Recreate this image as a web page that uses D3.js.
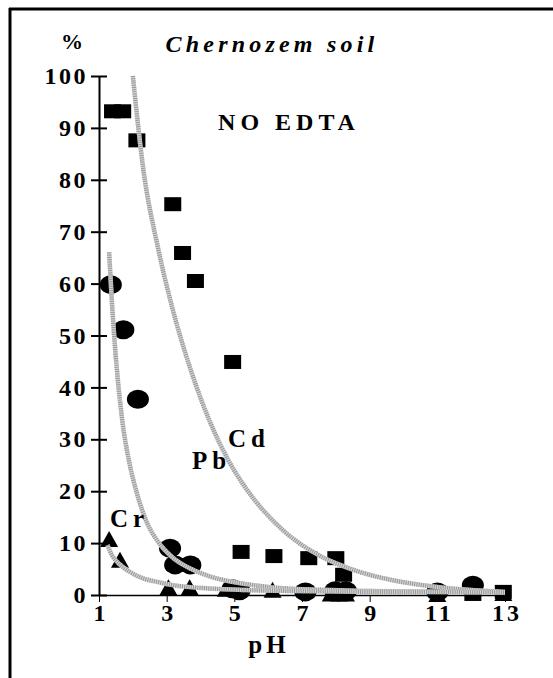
<!DOCTYPE html>
<html>
<head>
<meta charset="utf-8">
<script src="https://cdn.jsdelivr.net/npm/d3@7"></script>
<style>
    body { margin: 0; background: #fff; }
    text { font-family: "Liberation Serif", "Times New Roman", serif; font-weight: bold; fill: #000; }
</style>
</head>
<body>
<div id="chart"></div>
<script>
// pH values and % extracted
var cdPoints = [
    [1.4, 93.2], [1.7, 93.2], [2.12, 87.6], [3.18, 75.3], [3.47, 65.9], [3.85, 60.5],
    [4.95, 44.9], [5.2, 8.3], [6.17, 7.5], [7.2, 7.1], [8.0, 7.1], [8.23, 3.9],
    [12.05, 0.2], [12.95, 0.6]
];
var pbPoints = [
    [1.35, 59.8], [1.72, 51.1], [2.15, 37.7], [3.1, 9.0], [3.25, 5.8], [3.7, 5.8],
    [4.95, 1.2], [5.15, 0.8], [7.1, 0.6], [7.98, 0.8], [8.3, 0.8], [11.0, 0.6], [12.05, 1.9]
];
var crPoints = [
    [1.3, 10.8], [1.62, 6.8], [3.05, 1.5], [3.68, 1.5], [4.75, 1.2], [6.13, 1.0],
    [7.85, 0.3], [8.1, 0.3], [8.3, 0.3], [11.0, 0.2], [12.95, 0.4]
];

// trend curves, points
var cdCurve = [
    [2.0, 100], [2.31, 82], [2.74, 67], [3.18, 55], [3.73, 43], [4.27, 33.5], [4.82, 26],
    [5.36, 20.4], [6.45, 12.4], [7.54, 7.5], [8.63, 4.6], [9.72, 2.8], [10.81, 1.7],
    [11.9, 1.0], [13, 0.6]
];
var pbCurve = [
    [1.3, 66], [1.38, 56.6], [1.48, 47.2], [1.68, 34], [1.9, 25.4], [2.12, 19.6], [2.42, 13.9],
    [2.74, 10.3], [3.18, 7.2], [3.73, 5.0], [4.27, 3.6], [5.36, 2.1], [6.45, 1.3], [7.54, 1.0],
    [8.63, 0.8], [9.72, 0.7], [10.81, 0.65], [11.9, 0.6], [13, 0.55]
];
var crCurve = [
    [1.25, 9.6], [1.38, 7.7], [1.58, 6.1], [1.9, 4.5], [2.3, 3.2], [2.74, 2.5], [3.18, 1.9],
    [4.27, 1.25], [5.36, 0.95], [6.45, 0.8], [7.54, 0.7], [8.63, 0.65], [9.72, 0.6],
    [10.81, 0.6], [11.9, 0.55], [13, 0.5]
];

var xTicks = [1, 3, 5, 7, 9, 11, 13];
var yTicks = [0, 10, 20, 30, 40, 50, 60, 70, 80, 90, 100];

function init() {
    var w = 553,
        h = 678;

    var svg = d3
        .select("#chart")
        .append("svg")
        .attr("width", w)
        .attr("height", h);

    // outer frame (only left and top edges are visible)
    svg.append("line")
        .attr("x1", 10).attr("y1", 8).attr("x2", 10).attr("y2", h)
        .attr("stroke", "#000").attr("stroke-width", 3);
    svg.append("line")
        .attr("x1", 9).attr("y1", 9).attr("x2", w).attr("y2", 9)
        .attr("stroke", "#000").attr("stroke-width", 3);

    var xScale = d3.scaleLinear().domain([1, 13]).range([99, 505]);
    var yScale = d3.scaleLinear().domain([0, 100]).range([595, 76]);

    // axes
    var xAxis = d3.axisBottom(xScale)
        .tickValues(xTicks)
        .tickSize(7)
        .tickSizeOuter(0)
        .tickPadding(2);

    var yAxis = d3.axisLeft(yScale)
        .tickValues(yTicks)
        .tickSize(8)
        .tickSizeOuter(0)
        .tickPadding(3);

    var gx = svg.append("g")
        .attr("transform", "translate(0," + yScale(0) + ")")
        .call(xAxis);
    gx.select(".domain").attr("stroke", "#000").attr("stroke-width", 1.5);
    gx.selectAll(".tick line").attr("stroke", "#000").attr("stroke-width", 1);
    gx.selectAll("text")
        .attr("font-size", "24px")
        .attr("dx", "1.5px")
        .attr("letter-spacing", "3px")
        .style("font-family", "Liberation Serif")
        .style("font-weight", "bold");

    var gy = svg.append("g")
        .attr("transform", "translate(" + xScale(1) + ",0)")
        .call(yAxis);
    gy.select(".domain").attr("stroke", "#000").attr("stroke-width", 2);
    gy.selectAll(".tick line")
        .attr("x1", 8)
        .attr("stroke", "#000")
        .attr("stroke-width", 2);
    gy.selectAll("text")
        .attr("font-size", "24px")
        .attr("letter-spacing", "2.5px")
        .style("font-family", "Liberation Serif")
        .style("font-weight", "bold");

    // Cd : squares
    svg.append("g")
        .selectAll("rect")
        .data(cdPoints)
        .enter()
        .append("rect")
        .attr("x", d => xScale(d[0]) - 8.5)
        .attr("y", d => yScale(d[1]) - 7)
        .attr("width", 17)
        .attr("height", 14)
        .attr("fill", "#000");

    // Pb : circles
    svg.append("g")
        .selectAll("ellipse")
        .data(pbPoints)
        .enter()
        .append("ellipse")
        .attr("cx", d => xScale(d[0]))
        .attr("cy", d => yScale(d[1]))
        .attr("rx", 11)
        .attr("ry", 9.5)
        .attr("fill", "#000");

    // Cr : triangles
    svg.append("g")
        .selectAll("path")
        .data(crPoints)
        .enter()
        .append("path")
        .attr("d", d => {
            var cx = xScale(d[0]), cy = yScale(d[1]);
            return "M" + (cx - 9) + "," + (cy + 8) + "L" + cx + "," + (cy - 8) +
                "L" + (cx + 9) + "," + (cy + 8) + "Z";
        })
        .attr("fill", "#000");

    // grey trend lines
    var line = d3.line()
        .x(d => xScale(d[0]))
        .y(d => yScale(d[1]))
        .curve(d3.curveMonotoneX);

    [cdCurve, pbCurve, crCurve].forEach(c => {
        svg.append("path")
            .datum(c)
            .attr("d", line)
            .attr("fill", "none")
            .attr("stroke", "#d4d4d4")
            .attr("stroke-width", 4.5);
        svg.append("path")
            .datum(c)
            .attr("d", line)
            .attr("fill", "none")
            .attr("stroke", "#979797")
            .attr("stroke-width", 4.5)
            .attr("stroke-dasharray", "1 1.2");
    });

    // titles and labels
    svg.append("text")
        .attr("x", 72).attr("y", 49)
        .attr("text-anchor", "middle")
        .attr("font-size", "22px")
        .text("%");

    svg.append("text")
        .attr("x", 272).attr("y", 52)
        .attr("text-anchor", "middle")
        .attr("font-size", "24px")
        .attr("letter-spacing", "4.2px")
        .style("font-style", "italic")
        .text("Chernozem soil");

    svg.append("text")
        .attr("x", 289).attr("y", 130)
        .attr("text-anchor", "middle")
        .attr("font-size", "24px")
        .attr("letter-spacing", "5px")
        .text("NO EDTA");

    svg.append("text")
        .attr("x", 269).attr("y", 653)
        .attr("text-anchor", "middle")
        .attr("font-size", "25px")
        .attr("letter-spacing", "4px")
        .text("pH");

    var seriesLabels = [
        { t: "Cd", x: 228, y: 447 },
        { t: "Pb", x: 192, y: 469 },
        { t: "Cr", x: 110, y: 527 }
    ];
    svg.selectAll(".slabel")
        .data(seriesLabels)
        .enter()
        .append("text")
        .attr("class", "slabel")
        .attr("x", d => d.x)
        .attr("y", d => d.y)
        .attr("font-size", "25px")
        .attr("letter-spacing", "5px")
        .text(d => d.t);
}

window.onload = init;
</script>
</body>
</html>
